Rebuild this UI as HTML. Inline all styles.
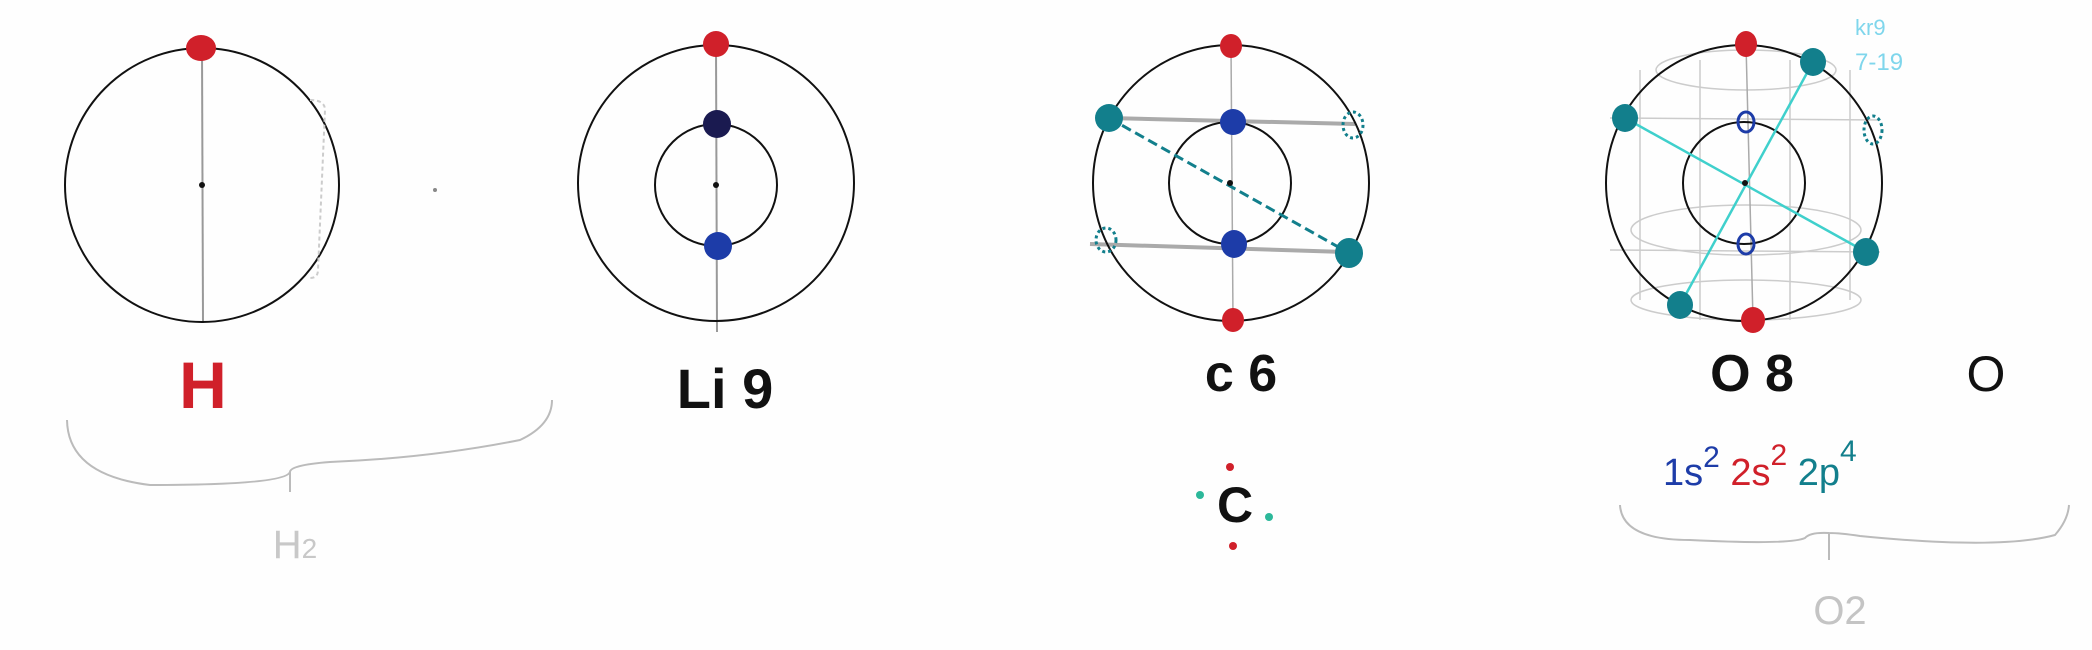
<!DOCTYPE html>
<html><head><style>
html,body{margin:0;padding:0;background:#fff;}
svg{display:block;}
text{font-family:"Liberation Sans",sans-serif;}
</style></head><body>
<svg width="2092" height="650" viewBox="0 0 2092 650" xmlns="http://www.w3.org/2000/svg">
<rect width="2092" height="650" fill="#fefefe"/>

<!-- H -->
<line x1="202" y1="48" x2="203" y2="323" stroke="#999" stroke-width="2"/>
<circle cx="202" cy="185" r="137" fill="none" stroke="#111" stroke-width="2"/>
<circle cx="202" cy="185" r="3" fill="#111"/>
<ellipse cx="201" cy="48" rx="15" ry="13" fill="#d0202a"/>
<path d="M310 100 Q325 100 325 110 L318 270 Q318 278 310 278" fill="none" stroke="#ccc" stroke-width="2" stroke-dasharray="4 3"/>
<circle cx="435" cy="190" r="2" fill="#888"/>
<text x="203" y="408" font-size="66" font-weight="bold" fill="#d0202a" text-anchor="middle">H</text>
<path d="M67 420 Q68 475 150 485 Q285 485 290 472 Q290 465 330 462 Q430 458 520 440 Q552 425 552 400" fill="none" stroke="#bbb" stroke-width="2"/>
<line x1="290" y1="472" x2="290" y2="492" stroke="#bbb" stroke-width="2"/>
<text x="295" y="558" font-size="40" fill="#c8c8c8" text-anchor="middle">H<tspan font-size="28">2</tspan></text>

<!-- Li -->
<line x1="716" y1="44" x2="717" y2="332" stroke="#999" stroke-width="2"/>
<circle cx="716" cy="183" r="138" fill="none" stroke="#111" stroke-width="2"/>
<circle cx="716" cy="185" r="61" fill="none" stroke="#111" stroke-width="2"/>
<circle cx="716" cy="185" r="3" fill="#111"/>
<ellipse cx="716" cy="44" rx="13" ry="13" fill="#d0202a"/>
<ellipse cx="717" cy="124" rx="14" ry="14" fill="#1a1a50"/>
<ellipse cx="718" cy="246" rx="14" ry="14" fill="#1d3ca8"/>
<text x="725" y="408" font-size="56" font-weight="bold" fill="#111" text-anchor="middle">Li 9</text>

<!-- C -->
<line x1="1231" y1="46" x2="1233" y2="320" stroke="#aaa" stroke-width="1.5"/>
<line x1="1109" y1="118" x2="1355" y2="124" stroke="#aaa" stroke-width="4"/>
<line x1="1090" y1="244" x2="1345" y2="252" stroke="#aaa" stroke-width="4"/>
<circle cx="1231" cy="183" r="138" fill="none" stroke="#111" stroke-width="2"/>
<circle cx="1230" cy="183" r="61" fill="none" stroke="#111" stroke-width="2"/>
<line x1="1109" y1="118" x2="1349" y2="253" stroke="#127f8c" stroke-width="3" stroke-dasharray="10 5"/>
<circle cx="1230" cy="183" r="3" fill="#111"/>
<ellipse cx="1231" cy="46" rx="11" ry="12" fill="#d0202a"/>
<ellipse cx="1233" cy="320" rx="11" ry="12" fill="#d0202a"/>
<ellipse cx="1233" cy="122" rx="13" ry="13" fill="#1d3ca8"/>
<ellipse cx="1234" cy="244" rx="13" ry="14" fill="#1d3ca8"/>
<ellipse cx="1109" cy="118" rx="14" ry="14" fill="#127f8c"/>
<ellipse cx="1349" cy="253" rx="14" ry="15" fill="#127f8c"/>
<ellipse cx="1353" cy="125" rx="10" ry="13" fill="none" stroke="#127f8c" stroke-width="3" stroke-dasharray="3 3"/>
<ellipse cx="1106" cy="240" rx="10" ry="12" fill="none" stroke="#127f8c" stroke-width="3" stroke-dasharray="3 3"/>
<text x="1241" y="391" font-size="52" font-weight="bold" fill="#111" text-anchor="middle">c 6</text>
<text x="1235" y="522" font-size="50" font-weight="bold" fill="#111" text-anchor="middle">C</text>
<circle cx="1230" cy="467" r="4" fill="#d0202a"/>
<circle cx="1233" cy="546" r="4" fill="#d0202a"/>
<circle cx="1200" cy="495" r="4" fill="#2cb89a"/>
<circle cx="1269" cy="517" r="4" fill="#2cb89a"/>

<!-- O -->
<g fill="none" stroke="#ccc" stroke-width="1.5">
<ellipse cx="1746" cy="70" rx="90" ry="20"/>
<ellipse cx="1746" cy="230" rx="115" ry="25"/>
<ellipse cx="1746" cy="300" rx="115" ry="20"/>
<line x1="1640" y1="70" x2="1640" y2="300"/><line x1="1700" y1="60" x2="1700" y2="320"/>
<line x1="1790" y1="60" x2="1790" y2="320"/><line x1="1850" y1="70" x2="1850" y2="300"/>
<line x1="1610" y1="118" x2="1880" y2="120"/><line x1="1610" y1="250" x2="1880" y2="252"/>
</g>
<line x1="1746" y1="44" x2="1753" y2="320" stroke="#aaa" stroke-width="1.5"/>
<circle cx="1744" cy="183" r="138" fill="none" stroke="#111" stroke-width="2"/>
<circle cx="1744" cy="183" r="61" fill="none" stroke="#111" stroke-width="2"/>
<line x1="1625" y1="118" x2="1866" y2="252" stroke="#3fd0cc" stroke-width="2.5"/>
<line x1="1813" y1="62" x2="1680" y2="305" stroke="#3fd0cc" stroke-width="2.5"/>
<circle cx="1745" cy="183" r="3" fill="#111"/>
<ellipse cx="1746" cy="44" rx="11" ry="13" fill="#d0202a"/>
<ellipse cx="1753" cy="320" rx="12" ry="13" fill="#d0202a"/>
<ellipse cx="1746" cy="122" rx="8" ry="10" fill="none" stroke="#1d3ca8" stroke-width="3"/>
<ellipse cx="1746" cy="244" rx="8" ry="10" fill="none" stroke="#1d3ca8" stroke-width="3"/>
<ellipse cx="1625" cy="118" rx="13" ry="14" fill="#127f8c"/>
<ellipse cx="1813" cy="62" rx="13" ry="14" fill="#127f8c"/>
<ellipse cx="1866" cy="252" rx="13" ry="14" fill="#127f8c"/>
<ellipse cx="1680" cy="305" rx="13" ry="14" fill="#127f8c"/>
<ellipse cx="1873" cy="130" rx="9" ry="14" fill="none" stroke="#127f8c" stroke-width="3" stroke-dasharray="3 3"/>
<text x="1855" y="35" font-size="22" fill="#7fd6ec">kr9</text>
<text x="1855" y="70" font-size="24" fill="#7fd6ec">7-19</text>
<text x="1752" y="391" font-size="52" font-weight="bold" fill="#111" text-anchor="middle">O 8</text>
<text x="1986" y="391" font-size="50" fill="#111" text-anchor="middle">O</text>
<text x="1663" y="485" font-size="38" fill="#1d3ca8">1s<tspan dy="-18" font-size="30">2</tspan><tspan dy="18" fill="#d0202a" font-size="38"> 2s</tspan><tspan dy="-20" fill="#d0202a" font-size="30">2</tspan><tspan dy="20" fill="#127f8c" font-size="38"> 2p</tspan><tspan dy="-24" fill="#127f8c" font-size="30">4</tspan></text>
<path d="M1620 505 Q1622 540 1690 540 Q1790 545 1805 538 Q1810 532 1829 533 Q1840 533 1860 536 Q2000 550 2055 535 Q2068 520 2069 505" fill="none" stroke="#bbb" stroke-width="2"/>
<line x1="1829" y1="533" x2="1829" y2="560" stroke="#bbb" stroke-width="2"/>
<text x="1840" y="624" font-size="40" fill="#c4c4c4" text-anchor="middle">O2</text>
</svg>
</body></html>
